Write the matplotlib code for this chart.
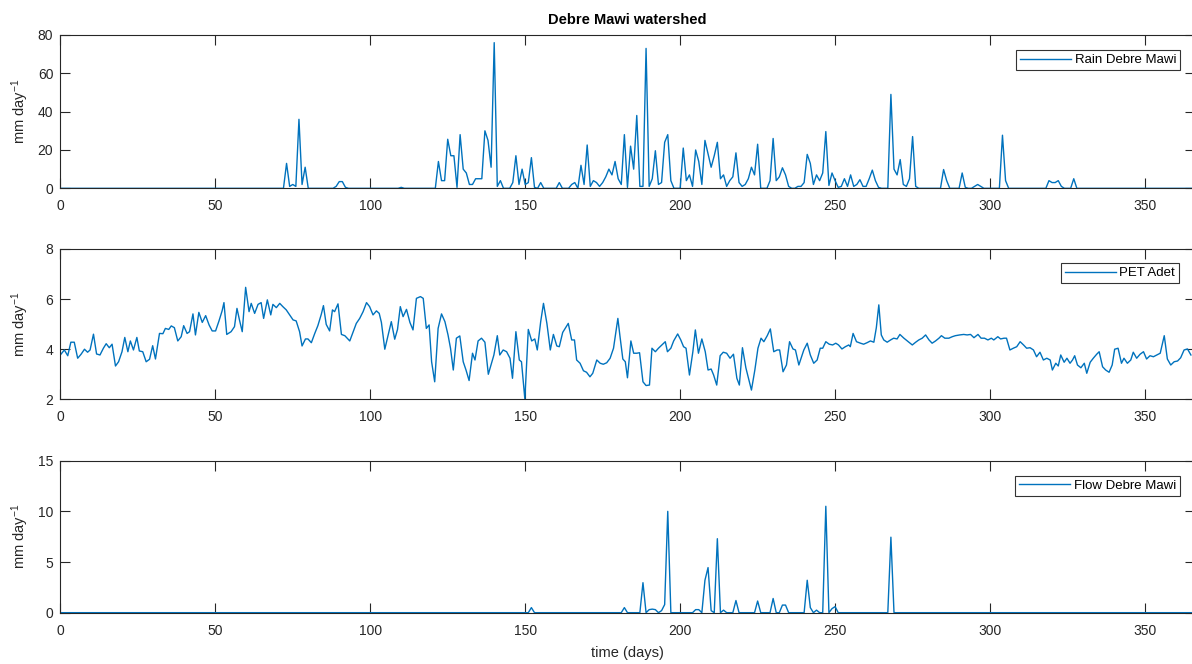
import numpy as np
import matplotlib.pyplot as plt

plt.rcParams['font.family'] = ['Liberation Sans', 'DejaVu Sans']
plt.rcParams['mathtext.default'] = 'regular'

# daily axis
days = np.arange(0, 367)

# rainfall Debre Mawi (mm/day), only the wet days are listed, rest is 0
rain_days = [73, 74, 75, 76, 77, 78, 79, 89, 90, 91, 92, 110,
             122, 123, 124, 125, 126, 127, 128, 129, 130, 131, 132, 133, 134, 135, 136,
             137, 138, 139, 140, 141, 142, 146, 147, 148, 149, 150, 151, 152, 153, 155,
             161, 165, 166, 168, 169, 170, 171, 172, 173, 174, 175, 176, 177, 178, 179,
             180, 181, 182, 183, 184, 185, 186, 187, 188, 189, 190, 191, 192, 193, 194,
             195, 196, 197, 201, 202, 203, 204, 205, 206, 207, 208, 209, 210, 211, 212,
             213, 214, 215, 216, 217, 218, 219, 220, 221, 222, 223, 224, 225, 229, 230,
             231, 232, 233, 234, 235, 238, 239, 240, 241, 242, 243, 244, 245, 246, 247,
             248, 249, 250, 251, 252, 253, 254, 255, 256, 257, 258, 259, 260, 261, 262,
             263, 264, 268, 269, 270, 271, 272, 273, 274, 275, 276, 285, 286, 291, 292,
             295, 296, 297, 304, 305, 319, 320, 321, 322, 323, 327]
rain_vals = [13, 1, 2, 1, 36, 2, 11, 1, 3.5, 3.5, 0.5, 0.5,
             14, 4, 4, 25.6, 17, 17, 0.5, 28, 10, 8, 2, 2, 5, 5, 5,
             30, 25, 11, 76, 1, 4, 3, 17, 2, 10, 2, 3, 16, 0.5, 3,
             3, 2, 3, 12, 2, 22.6, 1, 4, 3, 1, 3, 6, 10, 7, 14,
             5, 2, 28, 0.5, 22, 10, 38, 1, 1, 73, 1, 5, 19.6, 2, 3,
             24, 28, 4, 21, 4, 7, 1, 20, 14, 2, 25, 18, 11, 17, 24,
             5, 7, 1, 4, 6, 18.5, 3, 1, 2, 5, 11, 7, 23, 4, 26,
             4, 6, 10.7, 7, 1, 1, 1, 3, 17.7, 13, 2, 7, 4, 8, 29.6,
             1.5, 8, 4, 0.5, 1, 5, 1, 7, 1, 2, 4.5, 1, 1, 5, 9.5,
             4, 0.5, 49, 10, 7, 15, 2, 1, 5, 27, 1, 9.8, 4, 8, 0.5,
             1, 2, 1, 27.7, 4, 4, 3, 3, 4, 1, 5]

# potential evapotranspiration Adet (mm/day)
pet_days = [0, 1.3, 2.4, 3.4, 4.5, 5.6, 6.7, 7.8, 8.8, 9.6, 10.7, 11.7, 12.8, 13.9, 14.8,
            15.8, 16.7, 17.8, 18.8, 19.9, 20.8, 21.8, 22.6, 23.6, 24.7, 25.5, 26.6, 27.7,
            28.8, 29.8, 30.7, 32.0, 33.1, 33.9, 35.0, 35.8, 36.8, 37.9, 39.0, 39.8, 40.9,
            41.7, 42.8, 43.6, 44.7, 45.8, 46.9, 48.0, 49.0, 50.1, 51.2, 52.2, 52.8, 53.7,
            55.1, 56.2, 57.0, 57.8, 58.7, 59.8, 60.9, 61.6, 62.7, 63.8, 64.8, 65.6, 66.8,
            67.9, 68.6, 69.7, 70.8, 71.8, 72.9, 74.0, 75.1, 76.1, 77.2, 78.0, 79.1, 79.9,
            81.0, 82.1, 83.1, 84.2, 84.9, 85.8, 86.9, 87.8, 88.5, 89.6, 90.7, 91.8, 93.4,
            94.5, 95.5, 96.6, 97.7, 98.8, 99.8, 100.9, 102.0, 102.9, 103.6, 104.7, 105.8,
            106.8, 107.9, 108.8, 109.7, 110.6, 111.7, 112.8, 113.8, 114.9, 116.2, 117.1,
            118.1, 119.0, 119.8, 120.8, 121.9, 123.0, 124.1, 125.1, 125.9, 126.8, 127.8,
            128.9, 130.0, 130.9, 131.9, 133.0, 133.8, 134.8, 135.9, 137.0, 138.1, 139.2,
            139.9, 141.0, 141.8, 142.9, 144.0, 145.1, 145.9, 147.0, 148.1, 148.8, 149.9,
            151.0, 152.1, 153.1, 153.9, 155.0, 155.9, 157.0, 158.1, 159.1, 160.2, 161.0,
            162.1, 163.9, 165.0, 165.9, 166.6, 167.7, 168.8, 169.8, 170.9, 171.8, 173.1,
            174.2, 175.2, 176.3, 177.4, 178.5, 179.9, 180.6, 181.5, 182.3, 183.0, 184.1,
            185.0, 186.0, 186.9, 188.0, 189.0, 190.1, 190.9, 192.0, 193.0, 194.1, 195.2,
            195.9, 197.0, 197.9, 199.2, 200.2, 201.1, 201.9, 203.0, 204.1, 204.9, 205.9,
            207.0, 208.1, 209.0, 210.0, 210.8, 211.8, 212.9, 213.9, 215.0, 216.1, 217.2,
            218.3, 219.1, 220.1, 221.2, 222.1, 223.0, 224.1, 225.1, 226.1, 227.0, 228.1,
            229.1, 230.2, 231.3, 232.1, 233.2, 234.3, 235.3, 236.4, 237.2, 238.3, 239.9,
            241.0, 242.0, 243.1, 244.2, 245.2, 246.0, 247.0, 248.1, 249.2, 250.2, 251.1,
            252.2, 253.3, 254.4, 254.9, 255.8, 256.9, 258.2, 259.2, 260.3, 261.4, 262.5,
            263.3, 264.1, 264.9, 265.7, 266.8, 267.9, 268.9, 270.0, 270.9, 272.2, 273.3,
            274.9, 276.0, 277.0, 278.1, 279.2, 280.3, 281.3, 282.4, 283.5, 284.3, 285.4,
            286.7, 287.8, 288.8, 290.2, 291.5, 292.6, 293.7, 294.8, 296.1, 297.1, 298.2,
            299.3, 300.4, 301.2, 302.5, 303.4, 304.5, 305.3, 306.4, 307.5, 308.6, 309.7,
            310.8, 311.8, 312.9, 314.0, 315.0, 316.1, 317.2, 318.3, 319.4, 320.1, 321.2,
            322.0, 322.8, 323.9, 324.8, 325.8, 326.6, 327.3, 328.2, 329.3, 330.4, 331.2,
            332.3, 333.3, 334.4, 335.2, 336.3, 337.3, 338.4, 339.4, 340.2, 341.3, 342.4,
            343.2, 344.3, 345.4, 346.2, 347.3, 348.4, 349.5, 350.5, 351.6, 352.7, 353.8,
            354.9, 356.2, 357.2, 358.3, 359.4, 360.5, 361.5, 362.6, 363.7, 364.8]
pet_vals = [3.77, 3.97, 3.74, 4.28, 4.28, 3.64, 3.80, 4.00, 3.88, 3.97, 4.60, 3.81, 3.77, 4.04, 4.22,
            4.06, 4.20, 3.33, 3.50, 3.90, 4.47, 3.90, 4.33, 3.97, 4.47, 3.93, 3.90, 3.50,
            3.60, 4.14, 3.61, 4.63, 4.62, 4.83, 4.79, 4.93, 4.86, 4.33, 4.50, 4.94, 4.63,
            4.70, 5.41, 4.57, 5.47, 5.07, 5.34, 4.97, 4.73, 4.73, 5.13, 5.53, 5.86, 4.59,
            4.70, 4.90, 5.63, 5.17, 4.70, 6.47, 5.50, 5.83, 5.43, 5.79, 5.86, 5.23, 5.97,
            5.37, 5.79, 5.66, 5.83, 5.70, 5.57, 5.37, 5.17, 5.13, 4.70, 4.13, 4.41, 4.41,
            4.26, 4.63, 4.94, 5.39, 5.74, 4.99, 4.73, 5.57, 5.50, 5.81, 4.59, 4.54, 4.33,
            4.70, 5.03, 5.23, 5.50, 5.86, 5.70, 5.37, 5.53, 5.43, 5.07, 4.00, 4.57,
            5.10, 4.40, 4.79, 5.70, 5.30, 5.59, 5.07, 4.77, 6.03, 6.10, 6.03,
            4.83, 4.97, 3.50, 2.70, 4.83, 5.41, 5.10, 4.57, 4.04, 3.17, 4.44,
            4.53, 3.50, 3.17, 2.75, 3.84, 3.57, 4.33, 4.44, 4.28, 3.00, 3.48,
            3.77, 4.54, 3.77, 3.97, 3.90, 3.64, 2.84, 4.70, 3.57, 3.50, 2.00,
            4.79, 4.33, 4.41, 3.97, 5.10, 5.83, 5.03, 3.97, 4.59, 4.13, 4.10,
            4.67, 5.03, 4.37, 4.37, 3.57, 3.44, 3.14, 3.08, 2.90, 3.04, 3.57,
            3.44, 3.40, 3.46, 3.64, 4.04, 5.23, 4.50, 3.61, 3.50, 2.86, 4.33,
            3.84, 3.84, 3.86, 2.70, 2.55, 2.57, 4.04, 3.90, 4.04, 4.17, 4.30,
            3.90, 4.04, 4.33, 4.61, 4.37, 4.10, 4.04, 2.97, 3.90, 4.77, 3.84,
            4.41, 3.90, 3.17, 3.21, 2.97, 2.57, 3.74, 3.88, 3.84, 3.64, 3.80,
            2.84, 2.57, 4.06, 3.26, 2.81, 2.37, 3.17, 4.04, 4.44, 4.30, 4.54,
            4.81, 3.90, 3.97, 3.97, 3.10, 3.37, 4.30, 4.01, 3.97, 3.37, 3.97,
            4.24, 3.77, 3.44, 3.57, 4.04, 4.04, 4.30, 4.20, 4.17, 4.24, 4.17,
            4.01, 4.10, 4.17, 4.10, 4.63, 4.30, 4.24, 4.20, 4.26, 4.33, 4.28,
            4.86, 5.77, 4.57, 4.37, 4.28, 4.37, 4.44, 4.41, 4.59, 4.44, 4.33,
            4.17, 4.28, 4.37, 4.44, 4.57, 4.37, 4.24, 4.33, 4.44, 4.54, 4.44,
            4.44, 4.50, 4.54, 4.57, 4.59, 4.57, 4.59, 4.46, 4.59, 4.44, 4.44,
            4.37, 4.44, 4.37, 4.50, 4.41, 4.44, 4.44, 3.97, 4.04, 4.10, 4.30,
            4.17, 4.04, 4.06, 3.97, 3.70, 3.88, 3.57, 3.64, 3.57, 3.17, 3.44,
            3.33, 3.77, 3.48, 3.64, 3.44, 3.57, 3.74, 3.37, 3.26, 3.44, 3.04,
            3.48, 3.64, 3.80, 3.90, 3.30, 3.17, 3.08, 3.37, 4.00, 4.04, 3.44,
            3.64, 3.44, 3.57, 3.88, 3.64, 3.80, 3.90, 3.61, 3.74, 3.70, 3.77,
            3.84, 4.54, 3.61, 3.37, 3.50, 3.53, 3.66, 3.97, 4.01, 3.77]

# observed flow Debre Mawi (mm/day), only days with flow
flow_days = [152, 182, 188, 190, 191, 192, 194, 195, 196, 205, 206, 208, 209, 210,
             212, 214, 218, 225, 230, 233, 234, 241, 242, 244, 247, 249, 250, 268]
flow_vals = [0.5, 0.5, 2.96, 0.3, 0.35, 0.3, 0.2, 0.8, 10.0, 0.3, 0.3, 3.2, 4.45, 0.2,
             7.3, 0.25, 1.2, 1.15, 1.4, 0.75, 0.75, 3.2, 0.5, 0.25, 10.5, 0.4, 0.6, 7.45]

rain = np.zeros(len(days))
rain[rain_days] = rain_vals
flow = np.zeros(len(days))
flow[flow_days] = flow_vals

blue = '#0072BD'
grey = '#262626'

fig = plt.figure(figsize=(11.92, 6.64), dpi=100)
left, width = 0.0506, 0.9516
ax1 = fig.add_axes([left, 0.7164, width, 0.2309])
ax2 = fig.add_axes([left, 0.3986, width, 0.2264])
ax3 = fig.add_axes([left, 0.0773, width, 0.2289])


def style(ax, ylim, yticks, legend_x, legend_y):
    ax.set_xlim(0, 366)
    ax.set_ylim(ylim)
    ax.set_xticks(range(0, 351, 50))
    ax.set_yticks(yticks)
    ax.tick_params(direction='in', top=True, right=True, length=7, width=0.8,
                   color=grey, labelcolor=grey, labelsize=10)
    ax.tick_params(axis='x', pad=8)
    ax.tick_params(axis='y', pad=5)
    for s in ax.spines.values():
        s.set_color(grey)
        s.set_linewidth(0.8)
    ax.set_ylabel('mm day$^{-1}$', fontsize=10.5, color=grey)
    ax.yaxis.set_label_coords(-0.026, 0.5)
    leg = ax.legend(loc='upper right', bbox_to_anchor=(legend_x, legend_y),
                    borderaxespad=0, fancybox=False, fontsize=9.5,
                    handlelength=3.9, handletextpad=0.25, borderpad=0.3)
    leg.get_frame().set_edgecolor('black')
    leg.get_frame().set_linewidth(0.8)


ax1.plot(days, rain, color=blue, lw=1.0, label='Rain Debre Mawi')
style(ax1, (0, 80), [0, 20, 40, 60, 80], 0.9871, 0.902)
ax1.set_title('Debre Mawi watershed', fontsize=10.5, fontweight='bold', pad=8)

ax2.plot(pet_days, pet_vals, color=blue, lw=1.0, label='PET Adet')
style(ax2, (2, 8), [2, 4, 6, 8], 0.9862, 0.905)

ax3.plot(days, flow, color=blue, lw=1.0, label='Flow Debre Mawi')
style(ax3, (0, 15), [0, 5, 10, 15], 0.9871, 0.901)
ax3.set_xlabel('time (days)', fontsize=10.5, color=grey, labelpad=6)

fig.savefig('out.png', dpi=100)
